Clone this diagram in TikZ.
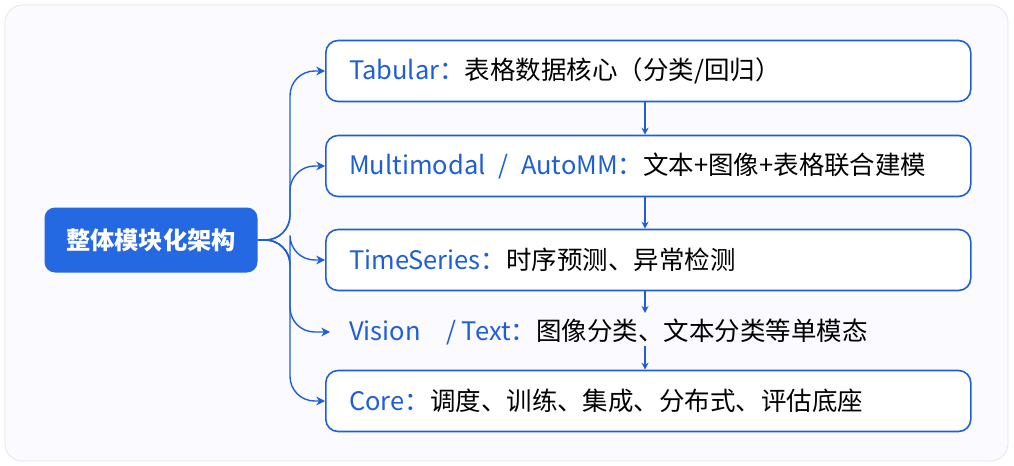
\documentclass[tikz,border=0pt]{standalone}
\usepackage{fontspec}
\setmainfont{Noto Sans CJK SC}
\usetikzlibrary{arrows.meta}
\definecolor{bl}{HTML}{1E5FD8}
\definecolor{lb}{HTML}{2468E2}
\tikzset{
 box/.style={draw=bl, line width=0.9pt, rounded corners=7pt, fill=white, minimum width=645*0.02cm, minimum height=61*0.02cm, anchor=west, inner sep=0pt},
 lbl/.style={font=\fontsize{14.5}{17}\selectfont, anchor=west},
 con/.style={draw=bl, line width=0.8pt, rounded corners=14pt, -{Stealth[length=5pt,width=5pt]}},
 dn/.style={draw=bl, line width=0.8pt, -{Stealth[length=4pt,width=4pt]}}
}
\begin{document}
\begin{tikzpicture}[x=0.02cm,y=-0.02cm]
\useasboundingbox (0,0) rectangle (1014,466);
\fill[white] (0,0) rectangle (1014,466);
\draw[draw=gray!20, fill=blue!2, rounded corners=10pt] (5,5) rectangle (1008,461);
\node[fill=lb, rounded corners=6pt, minimum width=213*0.02cm, minimum height=65*0.02cm, text=white, font=\fontsize{13.8}{16}\bfseries\selectfont] (L) at (151,240) {整体模块化架构};
\node[box] (b1) at (325,71) {};
\node[box] (b2) at (325,166) {};
\node[box] (b3) at (325,260) {};
\coordinate (b4) at (330,332);
\node[box] (b5) at (325,401) {};
\node[lbl] at (343,71) {\textcolor{bl}{Tabular：}表格数据核心（分类/回归）};
\node[lbl] at (343,166) {\textcolor{bl}{Multimodal\enspace/\enspace AutoMM：}文本+图像+表格联合建模};
\node[lbl] at (343,260) {\textcolor{bl}{TimeSeries：}时序预测、异常检测};
\node[lbl] (t4) at (343,332) {\textcolor{bl}{Vision\quad / Text：}图像分类、文本分类等单模态};
\node[lbl] at (343,401) {\textcolor{bl}{Core：}调度、训练、集成、分布式、评估底座};
\foreach \t in {b1,b2,b3,b5}{
 \draw[con] (L.east) -- (290,240) |- (\t.west);
}
\draw[con] (L.east) -- (290,240) |- (b4);
\draw[dn] (b1.south -| 645,0) -- (b2.north -| 645,0);
\draw[dn] (b2.south -| 645,0) -- (b3.north -| 645,0);
\draw[dn] (b3.south -| 645,0) -- (645,313);
\draw[dn] (645,346) -- (b5.north -| 645,0);
\end{tikzpicture}
\end{document}
